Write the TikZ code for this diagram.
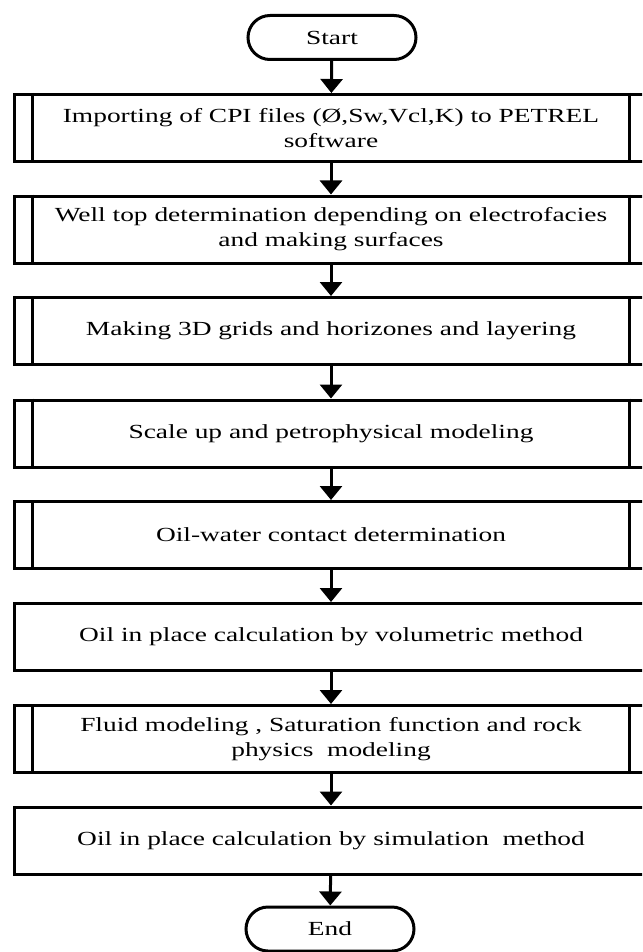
\documentclass[tikz,border=0pt]{standalone}
\usepackage{fontspec}
\setmainfont{Liberation Serif}[FakeStretch=1.37]
\usetikzlibrary{arrows.meta, positioning}

\begin{document}
\begin{tikzpicture}[x=1pt,y=1pt, font=\fontsize{20}{25}\selectfont,
  plainbox/.style={draw, line width=3pt, minimum width=634pt, minimum height=67pt,
    align=center, inner sep=0pt},
  terminal/.style={draw, line width=3pt, rounded corners=22pt, minimum width=168pt,
    minimum height=44pt, inner sep=0pt},
  flowarrow/.style={line width=3pt, -{Triangle[width=22pt,length=14pt]}}]
\clip (0,0) rectangle (642,-952);

% start and end
\node[terminal] (start) at (332,-37.5) {Start};
\node[terminal] (end) at (330,-929) {End};

% steps
\node[plainbox] (b1) at (331,-128) {Importing of CPI files (Ø,Sw,Vcl,K) to PETREL\\software};
\node[plainbox] (b2) at (331,-229.5) {Well top determination depending on electrofacies\\and making surfaces};
\node[plainbox] (b3) at (331,-331) {Making 3D grids and horizones and layering};
\node[plainbox] (b4) at (331,-433.5) {Scale up and petrophysical modeling};
\node[plainbox] (b5) at (331,-535) {Oil-water contact determination};
\node[plainbox] (b6) at (331,-637) {Oil in place calculation by volumetric method};
\node[plainbox] (b7) at (331,-739) {Fluid modeling , Saturation function and rock\\physics\ \ modeling};
\node[plainbox] (b8) at (331,-840.5) {Oil in place calculation by simulation\ \ method};

% side bars of the predefined steps
\foreach \n in {b1,b2,b3,b4,b5,b7} {
  \draw[line width=3pt] ([xshift=20pt]\n.north west) -- ([xshift=20pt]\n.south west);
  \draw[line width=3pt] ([xshift=-20pt]\n.north east) -- ([xshift=-20pt]\n.south east);
}

% arrows
\draw[flowarrow] (start) -- (b1);
\foreach \a/\b in {b1/b2, b2/b3, b3/b4, b4/b5, b5/b6, b6/b7, b7/b8} {
  \draw[flowarrow] (\a) -- (\b);
}
\draw[flowarrow] (b8) -- (end);
\end{tikzpicture}
\end{document}
